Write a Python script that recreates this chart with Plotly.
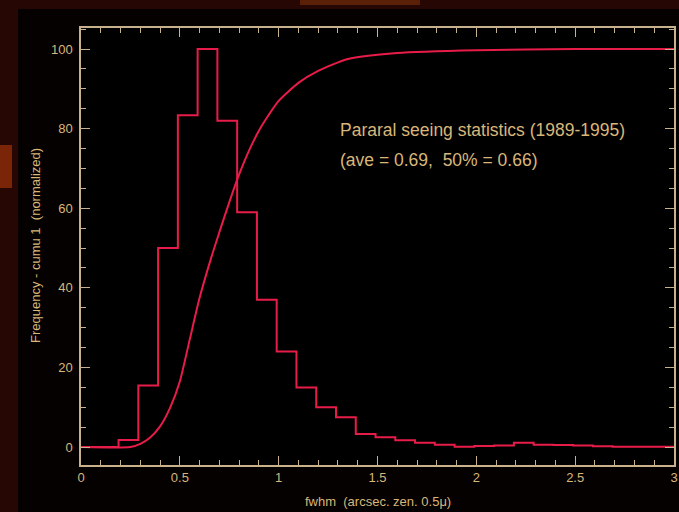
import plotly.graph_objects as go

# Histogram (normalized frequency), bin left edges in arcsec
bin_edges = [0.19, 0.29, 0.39, 0.49, 0.59, 0.69, 0.79, 0.89, 0.99, 1.09,
             1.19, 1.29, 1.39, 1.49, 1.59, 1.69, 1.79, 1.89, 1.99, 2.09,
             2.19, 2.29, 2.39, 2.49, 2.59, 2.69, 2.79, 2.89]
freq = [1.8, 15.5, 50, 83.4, 100, 82, 59, 37, 24, 15,
        10, 7.5, 3.3, 2.5, 1.7, 1.1, 0.6, 0.1, 0.3, 0.4,
        1.1, 0.6, 0.5, 0.4, 0.2, 0.1, 0.1, 0.1]

# Cumulative curve (normalized to 100)
cum_x = [0.0, 0.25, 0.3, 0.35, 0.4, 0.45, 0.5, 0.55, 0.6, 0.66, 0.7, 0.75,
         0.8, 0.85, 0.9, 0.95, 1.0, 1.1, 1.2, 1.35, 1.6, 2.0, 2.5, 3.0]
cum_y = [0, 0, 0.8, 2.4, 5.2, 9.8, 16.5, 27, 37.5, 47.8, 54, 61.5,
         68.5, 74.5, 79.5, 83.5, 87, 91.5, 94.5, 97.5, 99, 99.7, 100, 100]

x_ticks = [0, 0.5, 1, 1.5, 2, 2.5, 3]
x_tick_text = ["0", "0.5", "1", "1.5", "2", "2.5", "3"]
y_ticks = [0, 20, 40, 60, 80, 100]

RED = "rgb(232,28,72)"
TAN = "#d9b679"
FRAME = "#c8b28e"

W, H = 679, 512
L, R, T, B = 81, 5, 28, 47

hx = [0.0] + bin_edges + [3.0]
hy = [0.0] + freq + [freq[-1]]

fig = go.Figure()
fig.add_trace(go.Scatter(x=hx, y=hy, mode="lines", line=dict(color=RED, width=2, shape="hv"),
                         hoverinfo="skip", showlegend=False))
fig.add_trace(go.Scatter(x=cum_x, y=cum_y, mode="lines",
                         line=dict(color=RED, width=2, shape="spline", smoothing=0.6),
                         hoverinfo="skip", showlegend=False))

def px_x(p):
    return (p - L) / (W - L - R)

def px_y(p):
    return (H - B - p) / (H - T - B)

shapes = [
    dict(type="rect", xref="paper", yref="paper", x0=px_x(0), x1=px_x(18), y0=px_y(512), y1=px_y(0),
         fillcolor="#260704", line=dict(width=0), layer="below"),
    dict(type="rect", xref="paper", yref="paper", x0=px_x(0), x1=px_x(679), y0=px_y(9), y1=px_y(0),
         fillcolor="#260704", line=dict(width=0), layer="below"),
    dict(type="rect", xref="paper", yref="paper", x0=px_x(0), x1=px_x(12), y0=px_y(188), y1=px_y(145),
         fillcolor="#7a2508", line=dict(width=0), layer="below"),
    dict(type="rect", xref="paper", yref="paper", x0=px_x(300), x1=px_x(420), y0=px_y(5), y1=px_y(0),
         fillcolor="#5a2008", line=dict(width=0), layer="below"),
]

fig.update_layout(
    width=W, height=H,
    margin=dict(l=L, r=R, t=T, b=B, autoexpand=False),
    paper_bgcolor="#050101",
    plot_bgcolor="#000000",
    font=dict(family="Liberation Sans, Arial, sans-serif", color=TAN, size=12),
    shapes=shapes,
    annotations=[
        dict(x=1.30, y=79.6, xref="x", yref="y", xanchor="left", yanchor="middle",
             text="Pararal seeing statistics (1989-1995)", showarrow=False,
             font=dict(size=17.5, color=TAN)),
        dict(x=1.30, y=72.2, xref="x", yref="y", xanchor="left", yanchor="middle",
             text="(ave = 0.69,\u00a0 50% = 0.66)", showarrow=False,
             font=dict(size=17.5, color=TAN)),
        dict(x=px_x(36), y=px_y(246), xref="paper", yref="paper", xanchor="center", yanchor="middle",
             text="Frequency - cumu 1\u00a0 (normalized)", textangle=-90, showarrow=False,
             font=dict(size=13, color=TAN)),
        dict(x=0.5, y=px_y(501), xref="paper", yref="paper", xanchor="center", yanchor="middle",
             text="fwhm\u00a0 (arcsec. zen. 0.5μ)", showarrow=False,
             font=dict(size=13, color=TAN)),
    ],
)

fig.update_xaxes(
    range=[0, 3], tickvals=x_ticks, ticktext=x_tick_text,
    ticks="inside", ticklen=9, tickcolor=FRAME, tickwidth=1,
    minor=dict(dtick=0.1, tick0=0, ticks="inside", ticklen=5, tickcolor=FRAME),
    showline=True, linecolor=FRAME, linewidth=1.5, mirror="ticks",
    showgrid=False, zeroline=False, automargin=False,
    tickfont=dict(size=13, color=TAN),
)
fig.update_yaxes(
    range=[-4.5, 105.3], tickvals=y_ticks,
    ticks="inside", ticklen=9, tickcolor=FRAME, tickwidth=1,
    minor=dict(dtick=5, tick0=0, ticks="inside", ticklen=5, tickcolor=FRAME),
    showline=True, linecolor=FRAME, linewidth=1.5, mirror="ticks",
    showgrid=False, zeroline=False, automargin=False,
    tickfont=dict(size=13, color=TAN), ticklabelstandoff=4,
)

fig.write_html("out.html", config={"displayModeBar": False},
               post_script="document.body.style.margin='0';document.body.style.background='#050101';")
